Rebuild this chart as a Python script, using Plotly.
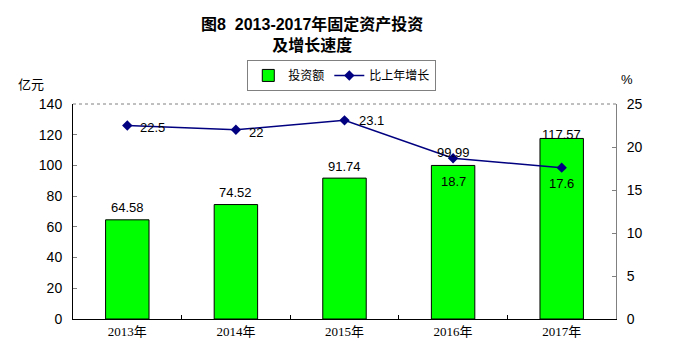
import plotly.graph_objects as go

years = ["2013年", "2014年", "2015年", "2016年", "2017年"]
investment = [64.58, 74.52, 91.74, 99.99, 117.57]
growth = [22.5, 22, 23.1, 18.7, 17.6]

sans = "Liberation Sans, Arial, Noto Sans CJK SC"
serif = "Liberation Serif, Noto Sans CJK SC"

fig = go.Figure()
fig.add_trace(go.Bar(
    x=years, y=investment, name="投资额",
    marker=dict(color="#00FF00", line=dict(color="#000000", width=1)),
    width=0.4,
))
fig.add_trace(go.Scatter(
    x=years, y=growth, name="比上年增长", yaxis="y2",
    mode="lines+markers",
    line=dict(color="#000080", width=1.5),
    marker=dict(symbol="diamond", size=8, color="#000080"),
    cliponaxis=False,
))

annotations = []
bar_shift = [12, 12, 12, 13, 4]
for yr, v, s in zip(years, investment, bar_shift):
    annotations.append(dict(x=yr, y=v, xref="x", yref="y", text=f"{v:.2f}",
                            showarrow=False, yanchor="middle", xanchor="center", yshift=s,
                            font=dict(family=sans, size=13, color="#000000")))
line_off = [(11, -2, "left"), (11, -3, "left"), (12, 0, "left"), (0, -23, "center"), (0, -16, "center")]
for yr, v, (dx, dy, xa) in zip(years, growth, line_off):
    annotations.append(dict(x=yr, y=v, xref="x", yref="y2", text=f"{v:g}",
                            showarrow=False, yanchor="middle", xanchor=xa, xshift=dx, yshift=dy,
                            font=dict(family=sans, size=13, color="#000000")))

annotations += [
    dict(text="<b>图8  2013-2017年固定资产投资<br>及增长速度</b>", xref="paper", yref="paper",
         x=(312 - 73) / 543, y=1 + (104 - 35) / 215, xanchor="center", yanchor="middle",
         showarrow=False, font=dict(family=sans, size=16, color="#000000"), align="center"),
    dict(text="亿元", xref="paper", yref="paper", x=(31 - 73) / 543, y=1 + (104 - 85) / 215,
         xanchor="center", yanchor="middle", showarrow=False,
         font=dict(family=serif, size=13, color="#000000")),
    dict(text="%", xref="paper", yref="paper", x=(627 - 73) / 543, y=1 + (104 - 80) / 215,
         xanchor="center", yanchor="middle", showarrow=False,
         font=dict(family=sans, size=13, color="#000000")),
]

fig.update_layout(
    width=672, height=354,
    margin=dict(l=65, r=64, t=96, b=43, autoexpand=False),
    paper_bgcolor="white", plot_bgcolor="white",
    showlegend=True,
    legend=dict(orientation="h", x=0.495, xanchor="center", y=1.205, yanchor="top",
                bordercolor="#808080", borderwidth=1,
                font=dict(family=sans, size=12, color="#000000"),
                itemwidth=30, tracegroupgap=0),
    xaxis=dict(showline=True, linecolor="#000000", linewidth=1, mirror=False,
               ticks="inside", ticklen=4, tickcolor="#000000", tickson="boundaries",
               tickfont=dict(family=serif, size=13, color="#000000"),
               showgrid=False, automargin=False),
    yaxis=dict(range=[0, 140], dtick=20, showline=True, linecolor="#000000",
               ticks="inside", ticklen=4, tickcolor="#808080", ticklabelstandoff=7,
               tickfont=dict(family=sans, size=14, color="#000000"),
               showgrid=False, zeroline=False, automargin=False),
    yaxis2=dict(range=[0, 25], dtick=5, overlaying="y", side="right",
                showline=True, linecolor="#808080", ticks="inside", ticklen=4,
                tickcolor="#808080", ticklabelstandoff=7,
                tickfont=dict(family=sans, size=14, color="#000000"),
                showgrid=False, zeroline=False, automargin=False),
    bargap=0.6,
    shapes=[dict(type="line", xref="paper", yref="paper", x0=0, x1=1, y0=1, y1=1,
                 line=dict(color="#808080", width=1, dash="dot"))],
    annotations=annotations,
)

fig.write_html("out.html")
